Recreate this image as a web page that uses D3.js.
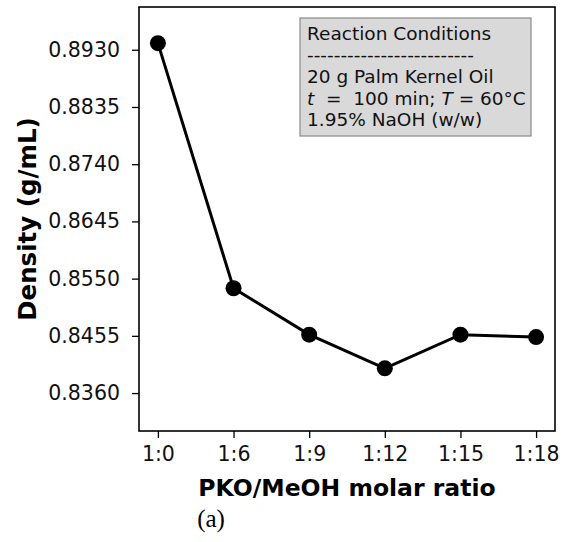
<!DOCTYPE html>
<html>
<head>
<meta charset="utf-8">
<script src="https://cdn.jsdelivr.net/npm/d3@7"></script>
<style>
  body { margin: 0; background: #fff; }
  text { font-family: "DejaVu Sans", sans-serif; }
</style>
</head>
<body>
<script>
// data
var ratios = ["1:0", "1:6", "1:9", "1:12", "1:15", "1:18"];
var density = [0.8941, 0.8534, 0.8457, 0.8401, 0.8457, 0.8453];
var yTicks = [0.8360, 0.8455, 0.8550, 0.8645, 0.8740, 0.8835, 0.8930];
var noteLines = ["Reaction Conditions", "-------------------------", "20 g Palm Kernel Oil", "t_ =  100 min; T = 60°C", "1.95% NaOH (w/w)"];

var width = 563, height = 542;
var margin = {left: 139, right: 8, top: 7, bottom: 111};
var w = width - margin.left - margin.right;
var h = height - margin.top - margin.bottom;

var svg = d3.select("body").append("svg")
    .attr("width", width)
    .attr("height", height);

var g = svg.append("g").attr("transform", "translate(" + margin.left + "," + margin.top + ")");

//SCALES
var xScale = d3.scaleLinear().domain([-0.25, ratios.length - 0.75]).range([0, w]);
var yScale = d3.scaleLinear().domain([0.8297, 0.9001]).range([h, 0]);

// axes
var xAxis = g.append("g")
    .attr("transform", "translate(0," + h + ")")
    .call(d3.axisBottom(xScale).tickValues(d3.range(ratios.length))
        .tickFormat(function(i){ return ratios[i]; }).tickSize(7).tickPadding(8));

var yAxis = g.append("g")
    .call(d3.axisLeft(yScale).tickValues(yTicks)
        .tickFormat(d3.format(".4f")).tickSize(7).tickPadding(12));

[xAxis, yAxis].forEach(function(a){
    a.select(".domain").remove();
    a.selectAll("line").attr("stroke", "#000").attr("stroke-width", 1.3);
    a.selectAll("text").attr("fill", "#111").style("font-size", "20.5px")
        .style("font-family", "'DejaVu Sans', sans-serif");
});

// frame
g.append("rect")
    .attr("width", w).attr("height", h)
    .attr("fill", "none").attr("stroke", "#000").attr("stroke-width", 1.6);

// line + markers
var line = d3.line()
    .x(function(d, i){ return xScale(i); })
    .y(function(d){ return yScale(d); });

g.append("path")
    .datum(density)
    .attr("d", line)
    .attr("fill", "none")
    .attr("stroke", "#000")
    .attr("stroke-width", 3);

g.selectAll("circle.pt")
    .data(density)
    .enter().append("circle")
    .attr("class", "pt")
    .attr("cx", function(d, i){ return xScale(i); })
    .attr("cy", function(d){ return yScale(d); })
    .attr("r", 8)
    .attr("fill", "#000");

// note box
var box = g.append("g").attr("transform", "translate(" + (300 - margin.left) + "," + (18 - margin.top) + ")");
box.append("rect")
    .attr("width", 231).attr("height", 118)
    .attr("fill", "#d9d9d9").attr("stroke", "#8a8a8a").attr("stroke-width", 1.2);

noteLines.forEach(function(s, i){
    var t = box.append("text")
        .attr("x", 7)
        .attr("y", 21.5 + i * 21.7)
        .style("font-size", "18.5px")
        .style("white-space", "pre")
        .attr("fill", "#111");
    if (s.indexOf("t_") === 0) {
        t.append("tspan").style("font-style", "italic").text("t");
        t.append("tspan").text("  =  100 min; ");
        t.append("tspan").style("font-style", "italic").text("T");
        t.append("tspan").text(" = 60°C");
    } else {
        t.text(s);
    }
});

// axis labels
svg.append("text")
    .attr("transform", "translate(36," + (margin.top + h / 2) + ") rotate(-90)")
    .attr("text-anchor", "middle")
    .style("font-size", "24.5px").style("font-weight", "bold")
    .text("Density (g/mL)");

svg.append("text")
    .attr("x", margin.left + w / 2)
    .attr("y", 496)
    .attr("text-anchor", "middle")
    .style("font-size", "23.5px").style("font-weight", "bold")
    .text("PKO/MeOH molar ratio");

svg.append("text")
    .attr("x", 211)
    .attr("y", 527)
    .attr("text-anchor", "middle")
    .style("font-size", "25px")
    .style("font-family", "'Liberation Serif', serif")
    .text("(a)");
</script>
</body>
</html>
